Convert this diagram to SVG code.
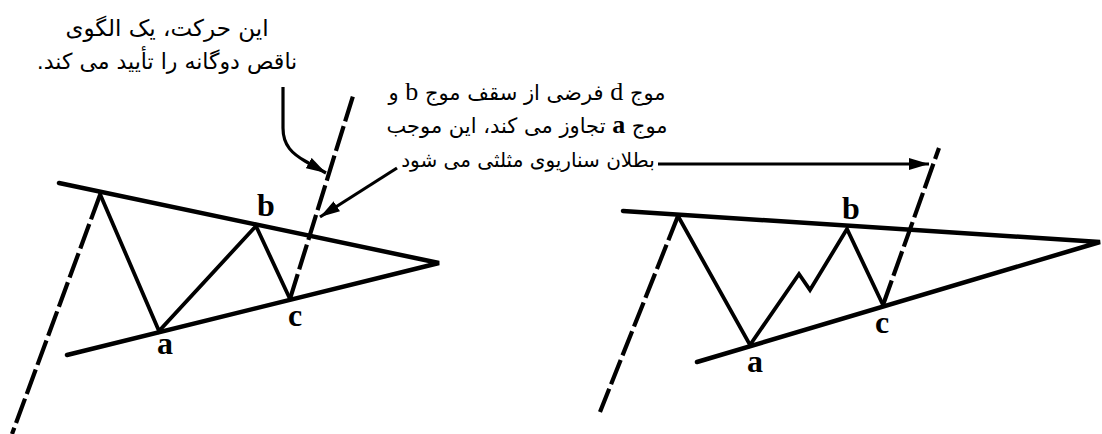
<svg xmlns="http://www.w3.org/2000/svg" width="1102" height="434" viewBox="0 0 1102 434">
<style>
.ln{fill:none;stroke:#000;stroke-width:4.5;stroke-linecap:round;stroke-linejoin:miter}
.zz{fill:none;stroke:#000;stroke-width:3.8;stroke-linejoin:miter;stroke-linecap:round}
.ds{fill:none;stroke:#000;stroke-width:4.2;stroke-dasharray:26 5}
.ar{fill:none;stroke:#000;stroke-width:3.2}
.lbl{font-family:"Liberation Serif",serif;font-weight:bold;font-size:32px;fill:#000}
.fa{font-family:"DejaVu Sans","Noto Sans",sans-serif;fill:#000;text-anchor:middle}
.lat{font-family:"Liberation Serif",serif}
</style>
<defs>
<marker id="ah" viewBox="0 0 10 6" refX="10" refY="3" markerWidth="20" markerHeight="12" markerUnits="userSpaceOnUse" orient="auto">
<path d="M0,0 L10,3 L0,6 z" fill="#000"/>
</marker>
</defs>

<g id="left-figure">
<path class="ln" d="M59,183 L439,263 L67,355"/>
<path class="zz" d="M100,194 L159,331 L256,226 L290,299"/>
<path class="ds" d="M100,195 L12,434"/>
<path class="ds" d="M290,299 L353,96"/>
<text class="lbl" x="257" y="216">b</text>
<text class="lbl" x="157" y="354">a</text>
<text class="lbl" x="288" y="326">c</text>
</g>

<g id="right-figure">
<path class="ln" d="M623,211 L1100,242 L697,362"/>
<path class="zz" d="M678,216 L750,345 L799,274 L810,290 L847,229 L883,305"/>
<path class="ds" d="M678,216 L600,412"/>
<path class="ds" d="M883,305 L939,148"/>
<text class="lbl" x="842" y="219">b</text>
<text class="lbl" x="747" y="372">a</text>
<text class="lbl" x="875" y="333">c</text>
</g>

<g id="note-left">
<text class="fa" direction="rtl" x="167" y="36" font-size="23">این حرکت، یک الگوی</text>
<text class="fa" direction="rtl" x="167" y="69" font-size="22">ناقص دوگانه را تأیید می کند.</text>
</g>

<g id="note-right">
<text class="fa" direction="rtl" x="527" y="100" font-size="21">موج <tspan class="lat" font-size="26">d</tspan> فرضی از سقف موج <tspan class="lat" font-size="26">b</tspan> و</text>
<text class="fa" direction="rtl" x="527" y="133" font-size="21">موج <tspan class="lat" font-size="26" font-weight="bold">a</tspan> تجاوز می کند، این موجب</text>
<text class="fa" direction="rtl" x="528" y="167" font-size="20">بطلان سناریوی مثلثی می شود</text>
</g>

<g id="connectors">
<path class="ar" d="M283,87 L283,128 C283,146 293,154 305,161 L326,173" marker-end="url(#ah)"/>
<path class="ar" d="M397,168 L320,217" marker-end="url(#ah)"/>
<path class="ar" d="M658,164 L929,164" marker-end="url(#ah)"/>
</g>
</svg>
